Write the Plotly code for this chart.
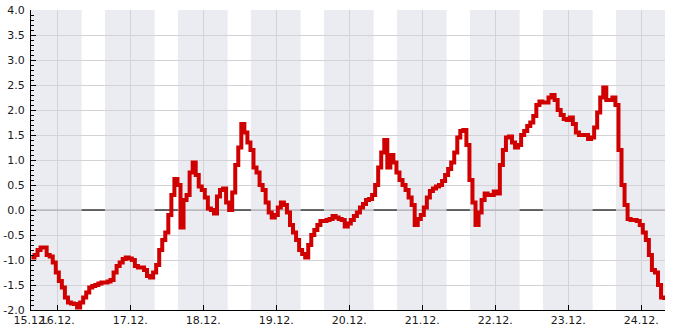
import pandas as pd
import plotly.graph_objects as go

# ---- data -------------------------------------------------------------
start_time = "2023-12-15 15:30"          # first reading, hourly afterwards
temps = [
    -0.95, -0.9, -0.8, -0.75, -0.75, -0.9, -0.93, -1.05, -1.25, -1.42,
    -1.55, -1.75, -1.85, -1.87, -1.88, -1.95, -1.85, -1.75, -1.65, -1.55,
    -1.52, -1.5, -1.47, -1.45, -1.45, -1.43, -1.4, -1.25, -1.12, -1.05,
    -0.98, -0.95, -0.97, -1.0, -1.12, -1.15, -1.15, -1.2, -1.32, -1.35,
    -1.25, -1.1, -0.8,
    -0.6, -0.45, -0.1, 0.3, 0.62, 0.5, -0.35, 0.2, 0.3, 0.75,
    0.95, 0.7, 0.47, 0.4, 0.25, 0.03, 0.0, -0.07, 0.27, 0.4,
    0.43, 0.15, 0.0, 0.35, 0.9, 1.25, 1.72, 1.55, 1.35, 1.2,
    0.85, 0.75, 0.5, 0.4, 0.15, -0.05, -0.15, -0.1, 0.05, 0.15, 0.1,
    -0.05, -0.3, -0.45, -0.6, -0.8, -0.88, -0.95, -0.7, -0.5, -0.4,
    -0.3, -0.22, -0.22, -0.2, -0.18, -0.12, -0.15, -0.18, -0.2, -0.33,
    -0.27, -0.2, -0.12, -0.05, 0.05, 0.12, 0.2, 0.22, 0.3, 0.5,
    0.85, 1.15, 1.4, 0.85, 1.1, 0.95, 0.75, 0.6, 0.5, 0.4, 0.25, 0.1,
    -0.3, -0.18, -0.1, 0.05, 0.25, 0.38, 0.43, 0.47, 0.5, 0.58,
    0.7, 0.82, 0.95, 1.15, 1.45, 1.58, 1.6, 1.3, 0.6, 0.15,
    -0.3, -0.05, 0.2, 0.33, 0.3, 0.3, 0.37, 0.33, 0.9, 1.2,
    1.45, 1.47, 1.35, 1.25, 1.3, 1.5, 1.58, 1.68, 1.75, 1.88, 2.1, 2.17,
    2.15, 2.15, 2.25, 2.3, 2.2, 2.0, 1.9, 1.82, 1.8, 1.85,
    1.72, 1.55, 1.5, 1.5, 1.5, 1.42, 1.45, 1.65, 1.95, 2.25,
    2.45, 2.2, 2.2, 2.25, 2.1, 1.2, 0.5, 0.1, -0.18, -0.2,
    -0.2, -0.22, -0.3, -0.45, -0.6, -0.9, -1.2, -1.25, -1.5, -1.75, -1.8,
]
times = pd.date_range(start_time, periods=len(temps), freq="h")

x_range = ["2023-12-15 15:21", "2023-12-24 07:48"]
x_tickvals = ["2023-12-15 15:21"] + [f"2023-12-{d} 00:00" for d in range(16, 25)]
x_ticktext = ["15.12."] + [f"{d}.12." for d in range(16, 25)]
y_ticks = [-2.0, -1.5, -1.0, -0.5, 0.0, 0.5, 1.0, 1.5, 2.0, 2.5, 3.0, 3.5, 4.0]

# dark periods (sunset -> sunrise)
night_start = ["2023-12-15 15:00"] + [f"2023-12-{d} 15:40" for d in range(16, 24)]
night_end = [f"2023-12-{d} 08:00" for d in range(16, 25)]

# ---- figure -----------------------------------------------------------
BAND = "#ebecf1"
GRID = "#d3d3d7"
RED = "#d10000"

shapes = []
for s, e in zip(night_start, night_end):
    shapes.append(dict(type="rect", xref="x", yref="y", x0=s, x1=e, y0=-2, y1=4,
                       fillcolor=BAND, line_width=0, layer="below"))
shapes.append(dict(type="line", xref="x", yref="y", x0=x_range[0], x1=x_range[1],
                   y0=0, y1=0, line=dict(color="#a2a2a6", width=1), layer="between"))
day_starts = night_end[:-1]
day_ends = night_start[1:]
for s, e in zip(day_starts, day_ends):
    shapes.append(dict(type="line", xref="x", yref="y", x0=s, x1=e, y0=0, y1=0,
                       line=dict(color="#000000", width=1), layer="between"))

fig = go.Figure()
fig.add_trace(go.Scatter(
    x=times, y=temps, mode="lines", line_shape="hv",
    line=dict(color=RED, width=4), hoverinfo="skip", showlegend=False,
))

fig.update_layout(
    width=685, height=330,
    margin=dict(l=31, r=20, t=10, b=20),
    paper_bgcolor="white", plot_bgcolor="white",
    font=dict(family="DejaVu Sans", size=11, color="#1a1a1a"),
    shapes=shapes,
    xaxis=dict(
        range=x_range, type="date",
        tickmode="array", tickvals=x_tickvals, ticktext=x_ticktext,
        tickangle=0, automargin=False,
        ticks="inside", ticklen=5, tickcolor="#000000",
        showline=True, linecolor="#000000", linewidth=1,
        showgrid=True, gridcolor=GRID, gridwidth=1,
        zeroline=False, fixedrange=True,
    ),
    yaxis=dict(
        range=[-2, 4], automargin=False,
        tickmode="array", tickvals=y_ticks,
        ticktext=[f"{v:.1f}" for v in y_ticks],
        ticklabelstandoff=3,
        ticks="inside", ticklen=5, tickcolor="#000000",
        showline=True, linecolor="#000000", linewidth=1,
        showgrid=True, gridcolor=GRID, gridwidth=1,
        zeroline=False, fixedrange=True,
        minor=dict(tickmode="linear", tick0=0, dtick=0.1, ticks="inside",
                   ticklen=3, tickcolor="#000000", showgrid=False),
    ),
)

fig.write_html("out.html")
